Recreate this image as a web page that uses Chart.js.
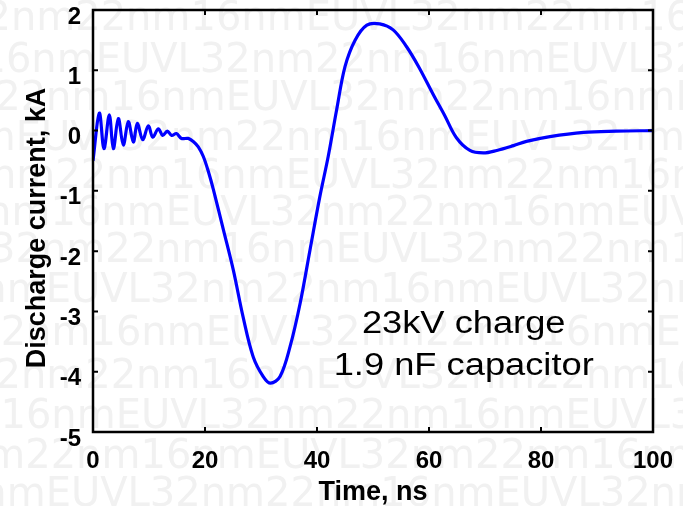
<!DOCTYPE html>
<html>
<head>
<meta charset="utf-8">
<script src="https://cdn.jsdelivr.net/npm/chart.js@4/dist/chart.umd.min.js"></script>
<style>
    html, body { margin: 0; padding: 0; background: #fff; }
    #wrap { width: 683px; height: 506px; }
</style>
</head>
<body>
<div id="wrap"><canvas id="dischargeChart" width="683" height="506"></canvas></div>
<script>
// 放电电流波形数据
const timeNs = [0, 1.13, 1.96, 2.91, 3.63, 4.52, 5.41, 6.3, 7.2, 7.91,
    8.87, 9.88, 10.66, 11.66, 12.45, 13.27, 14.05, 14.9, 15.8, 17.0,
    17.9, 18.8, 19.7, 20.6, 21.5, 23.3, 25.05, 26.8, 28.6, 30.4,
    31.7, 33.4, 35.2, 37.0, 38.75, 40.5, 42.0, 43.5, 45.0, 46.8,
    48.9, 51.2, 53.6, 56.0, 58.2, 60.8, 62.8, 64.9, 67.3, 69.7,
    72.1, 75.1, 77.4, 81.6, 87.6, 93.5, 100];
const currentKA = [-0.50, 0.29, -0.30, 0.26, -0.30, 0.20, -0.24, 0.15, -0.19, 0.12,
    -0.15, 0.08, -0.11, 0.03, -0.08, -0.01, -0.08, -0.05, -0.13, -0.13,
    -0.18, -0.27, -0.43, -0.68, -0.98, -1.65, -2.31, -3.09, -3.75, -4.08,
    -4.19, -4.08, -3.58, -2.86, -1.98, -1.10, -0.43, 0.34, 1.06, 1.50,
    1.75, 1.77, 1.67, 1.39, 1.05, 0.59, 0.25, -0.12, -0.33, -0.37,
    -0.33, -0.25, -0.18, -0.10, -0.03, -0.01, 0.00];

const xTicks = [0, 20, 40, 60, 80, 100];
const yTicks = [-5, -4, -3, -2, -1, 0, 1, 2];
const xTitle = 'Time, ns';
const yTitle = 'Discharge current, kA';
const noteLines = ['23kV charge', '1.9 nF capacitor'];
const watermarkText = '32nm22nm16nmEUVL';

Chart.defaults.font.family = '"Liberation Sans", Arial, sans-serif';
Chart.defaults.color = '#000';

// 背景水印行: [中心y, 水平偏移]
const watermarkRows = [
    [20, 40], [62, 250], [100, 120], [140, 330], [178, 60], [215, 180],
    [252, 10], [292, 300], [335, 140], [378, 30], [418, 230], [458, 90], [496, 300]
];

// 固定绘图区, 去掉刻度标签带来的额外留白
function noScalePadding(s) {
    s.paddingTop = 0;
    s.paddingBottom = 0;
    s.paddingLeft = 0;
    s.paddingRight = 0;
}

const decorPlugin = {
    id: 'decor',
    beforeDraw(chart) {
        const ctx = chart.ctx;
        ctx.save();
        ctx.fillStyle = '#ffffff';
        ctx.fillRect(0, 0, chart.width, chart.height);
        ctx.fillStyle = '#f1f1f1';
        ctx.font = '40px "DejaVu Sans", sans-serif';
        ctx.textBaseline = 'middle';
        ctx.textAlign = 'left';
        const row = watermarkText.repeat(4);
        watermarkRows.forEach(([y, shift]) => ctx.fillText(row, -shift, y));
        ctx.restore();
    },
    afterDraw(chart) {
        const ctx = chart.ctx;
        const { left, right, top, bottom } = chart.chartArea;
        const xs = chart.scales.x, ys = chart.scales.y;
        ctx.save();
        ctx.strokeStyle = '#000';
        ctx.lineWidth = 2.5;
        ctx.strokeRect(left, top, right - left, bottom - top);

        // 内向刻度线 (四边)
        ctx.lineWidth = 2;
        const len = 5;
        ctx.beginPath();
        xTicks.forEach(v => {
            const px = xs.getPixelForValue(v);
            ctx.moveTo(px, bottom); ctx.lineTo(px, bottom - len);
            ctx.moveTo(px, top); ctx.lineTo(px, top + len);
        });
        yTicks.forEach(v => {
            const py = ys.getPixelForValue(v);
            ctx.moveTo(left, py); ctx.lineTo(left + len, py);
            ctx.moveTo(right, py); ctx.lineTo(right - len, py);
        });
        ctx.stroke();

        // 坐标轴标题
        ctx.fillStyle = '#000';
        ctx.font = 'bold 27px "Liberation Sans", Arial, sans-serif';
        ctx.textAlign = 'center';
        ctx.textBaseline = 'alphabetic';
        ctx.fillText(xTitle, (left + right) / 2, 500);
        ctx.translate(45, 228);
        ctx.rotate(-Math.PI / 2);
        ctx.fillText(yTitle, 0, 0);
        ctx.restore();

        // 注释文字
        ctx.save();
        ctx.fillStyle = '#000';
        ctx.font = '31px "Liberation Sans", Arial, sans-serif';
        ctx.textAlign = 'center';
        ctx.textBaseline = 'alphabetic';
        const noteX = xs.getPixelForValue(66.2);
        [333, 375].forEach((y, i) => {
            ctx.save();
            ctx.translate(noteX, y);
            ctx.scale(1.17, 1);
            ctx.fillText(noteLines[i], 0, 0);
            ctx.restore();
        });
        ctx.restore();
    }
};

const ctx = document.getElementById('dischargeChart').getContext('2d');
const chart = new Chart(ctx, {
    type: 'line',
    data: {
        datasets: [{
            label: 'Discharge current',
            data: timeNs.map((t, i) => ({ x: t, y: currentKA[i] })),
            borderColor: '#0000ff',
            borderWidth: 3.2,
            pointRadius: 0,
            fill: false,
            tension: 0.35
        }]
    },
    options: {
        responsive: false,
        animation: false,
        devicePixelRatio: 1,
        layout: { padding: { top: 10, right: 30, bottom: 0, left: 0 } },
        plugins: {
            legend: { display: false },
            tooltip: { enabled: false }
        },
        scales: {
            x: {
                type: 'linear',
                min: 0,
                max: 100,
                afterBuildTicks: s => { s.ticks = xTicks.map(v => ({ value: v })); },
                afterFit: s => { s.height = 74; noScalePadding(s); },
                grid: { display: false, drawTicks: false },
                border: { display: false },
                ticks: {
                    padding: 17,
                    maxRotation: 0,
                    color: '#000',
                    font: { size: 24, weight: 'bold', lineHeight: 1 }
                }
            },
            y: {
                min: -5,
                max: 2,
                afterBuildTicks: s => { s.ticks = yTicks.map(v => ({ value: v })); },
                afterFit: s => { s.width = 93; noScalePadding(s); },
                grid: { display: false, drawTicks: false },
                border: { display: false },
                ticks: {
                    padding: 12,
                    labelOffset: 7,
                    color: '#000',
                    font: { size: 24, weight: 'bold', lineHeight: 0.8 }
                }
            }
        }
    },
    plugins: [decorPlugin]
});
</script>
</body>
</html>
